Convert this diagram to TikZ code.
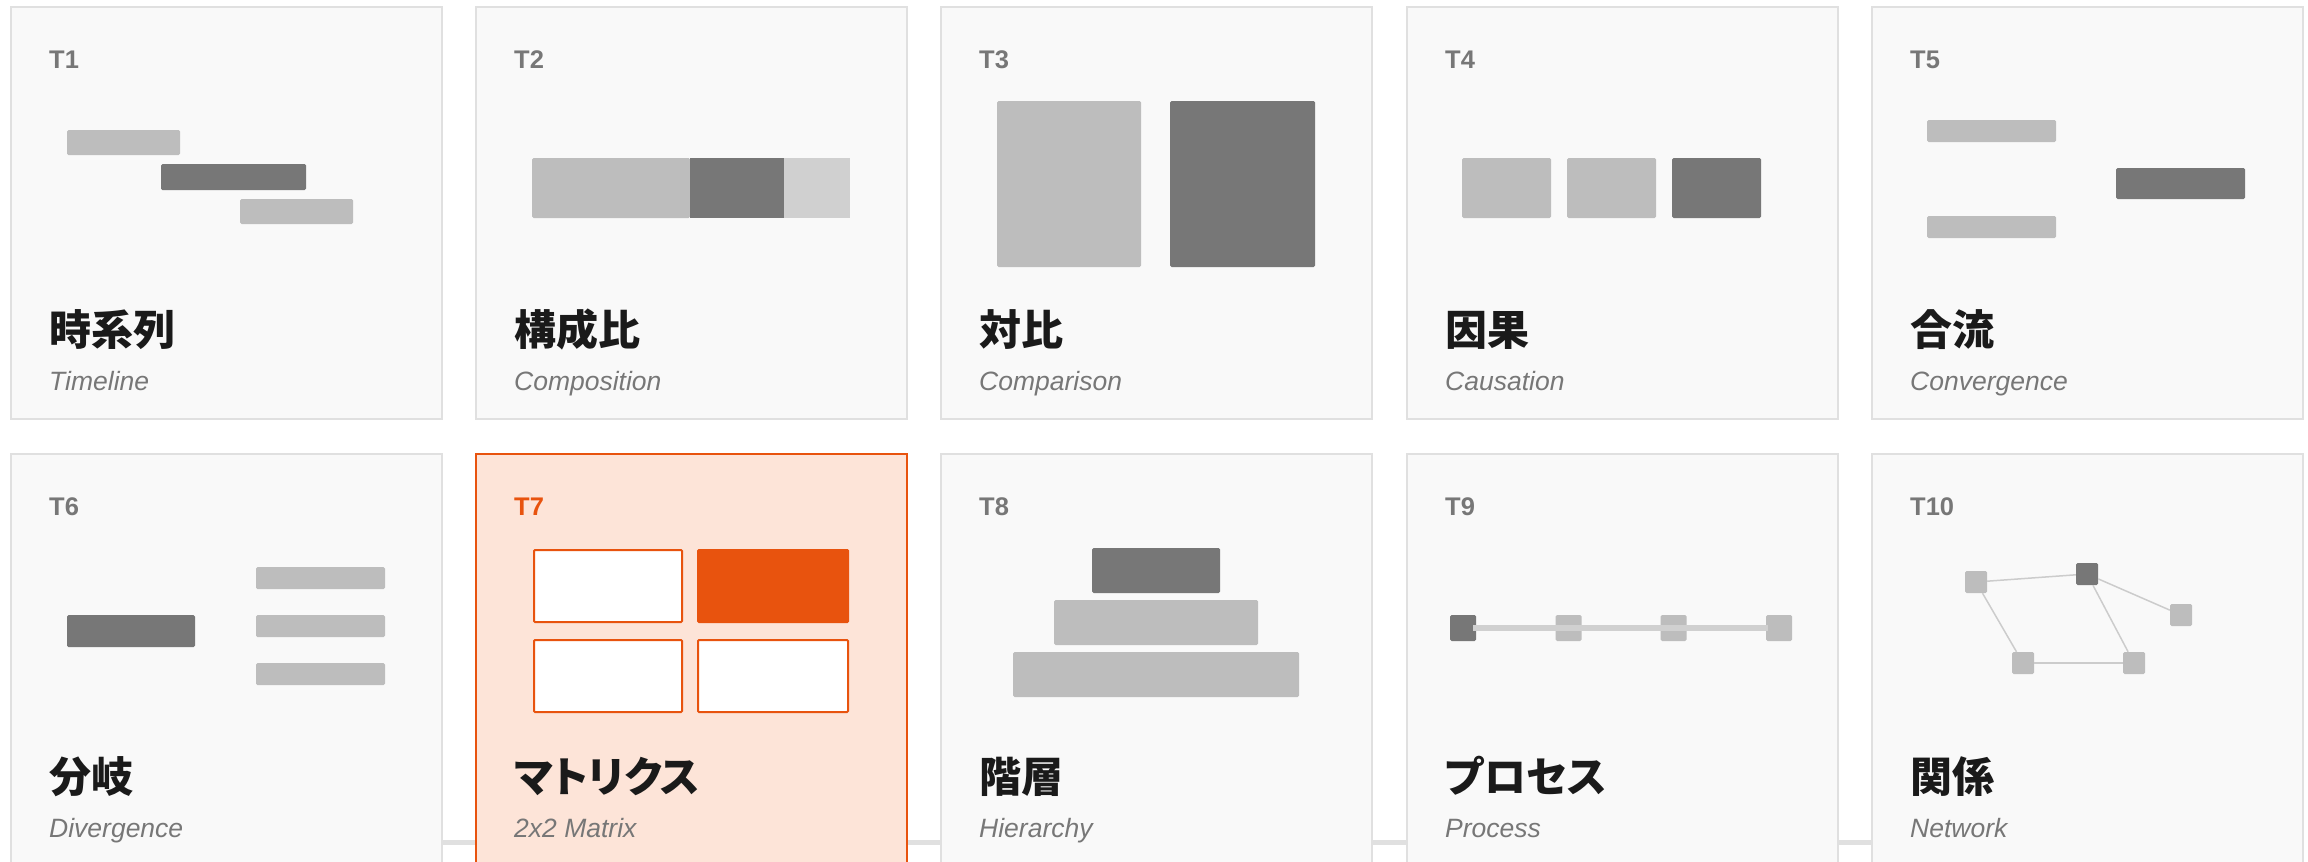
\documentclass[tikz,border=0pt]{standalone}
\usepackage{fontspec}
\setmainfont{Liberation Sans}
\newfontfamily\cjk{Noto Sans CJK JP}[RawFeature=+palt]
\definecolor{cardbg}{HTML}{F9F9F9}
\definecolor{cardline}{HTML}{E0E0E0}
\definecolor{barlight}{HTML}{BDBDBD}
\definecolor{bardark}{HTML}{777777}
\definecolor{barpale}{HTML}{D0D0D0}
\definecolor{netline}{HTML}{CCCCCC}
\definecolor{labgray}{HTML}{777777}
\definecolor{subgray}{HTML}{777777}
\definecolor{ink}{HTML}{1A1A1A}
\definecolor{peach}{HTML}{FDE4D8}
\definecolor{brand}{HTML}{E8530E}
\tikzset{
  card/.style={draw=cardline, line width=2pt, fill=cardbg, inner sep=0pt,
    minimum width=431pt, minimum height=412pt, anchor=north west},
  hotcard/.style={card, draw=brand, fill=peach},
  lab/.style={anchor=base west, inner sep=0pt, font=\bfseries\fontsize{25.5}{30}\selectfont, text=labgray},
  ttl/.style={anchor=base west, inner sep=0pt, font=\cjk\bfseries\fontsize{42}{50}\selectfont, text=ink},
  sub/.style={anchor=base west, inner sep=0pt, font=\itshape\fontsize{26.5}{31}\selectfont, text=subgray},
  lightbar/.style={fill=barlight, rounded corners=1.5pt},
  darkbar/.style={fill=bardark, rounded corners=1.5pt},
  palebar/.style={fill=barpale},
  mbox/.style={draw=brand, line width=2pt, fill=white, rounded corners=1pt},
  mboxon/.style={fill=brand, rounded corners=1.5pt},
  psq/.style={fill=barlight, minimum width=26pt, minimum height=26pt, inner sep=0pt, rounded corners=1.5pt},
  psqdark/.style={psq, fill=bardark},
  pline/.style={draw=barpale, line width=6pt},
  nsq/.style={fill=barlight, minimum width=22pt, minimum height=22pt, inner sep=0pt, rounded corners=1.5pt},
  nsqdark/.style={nsq, fill=bardark},
  nline/.style={draw=netline, line width=1.5pt},
  gapbar/.style={draw=cardline, line width=5pt}
}
\newcommand\mkcard[7]{%
  \node[#7] (#1) at (#2,#3) {};
  \node[lab] (#1-id) at (#2+39,#3+62) {#4};
  \node[ttl] (#1-title) at (#2+39,#3+339) {#5};
  \node[sub] (#1-sub) at (#2+39,#3+384) {#6};
}
\begin{document}
\begin{tikzpicture}[x=1pt, y=-1pt]
\useasboundingbox[fill=white] (0,0) rectangle (2308,862);
\clip (0,0) rectangle (2308,862);
% band behind the lower row
\coordinate (bandL) at (441,842);
\coordinate (bandR) at (1871,842);
\draw[gapbar] (bandL) -- (bandR);
% row 1
\mkcard{c1}{10}{6}{T1}{時系列}{Timeline}{card}
\mkcard{c2}{475}{6}{T2}{構成比}{Composition}{card}
\mkcard{c3}{940}{6}{T3}{対比}{Comparison}{card}
\mkcard{c4}{1406}{6}{T4}{因果}{Causation}{card}
\mkcard{c5}{1871}{6}{T5}{合流}{Convergence}{card}
% row 2
\mkcard{c6}{10}{453}{T6}{分岐}{Divergence}{card}
\mkcard{c7}{475}{453}{\textcolor{brand}{T7}}{マトリクス}{2x2 Matrix}{hotcard}
\mkcard{c8}{940}{453}{T8}{階層}{Hierarchy}{card}
\mkcard{c9}{1406}{453}{T9}{プロセス}{Process}{card}
\mkcard{c10}{1871}{453}{T10}{関係}{Network}{card}
% T1 timeline
\fill[lightbar] (67,130) rectangle (180,155);
\fill[darkbar] (161,164) rectangle (306,190);
\fill[lightbar] (240,199) rectangle (353,224);
% T2 composition
\fill[lightbar] (532,158) rectangle (690,218);
\fill[fill=bardark] (690,158) rectangle (784,218);
\fill[palebar] (784,158) rectangle (850,218);
% T3 comparison
\fill[lightbar] (997,101) rectangle (1141,267);
\fill[darkbar] (1170,101) rectangle (1315,267);
% T4 causation
\fill[lightbar] (1462,158) rectangle (1551,218);
\fill[lightbar] (1567,158) rectangle (1656,218);
\fill[darkbar] (1672,158) rectangle (1761,218);
% T5 convergence
\fill[lightbar] (1927,120) rectangle (2056,142);
\fill[darkbar] (2116,168) rectangle (2245,199);
\fill[lightbar] (1927,216) rectangle (2056,238);
% T6 divergence
\fill[darkbar] (67,615) rectangle (195,647);
\fill[lightbar] (256,567) rectangle (385,589);
\fill[lightbar] (256,615) rectangle (385,637);
\fill[lightbar] (256,663) rectangle (385,685);
% T7 matrix
\filldraw[mbox] (534,550) rectangle (682,622);
\fill[mboxon] (697,549) rectangle (849,623);
\filldraw[mbox] (534,640) rectangle (682,712);
\filldraw[mbox] (698,640) rectangle (848,712);
% T8 hierarchy
\fill[darkbar] (1092,548) rectangle (1220,593);
\fill[lightbar] (1054,600) rectangle (1258,645);
\fill[lightbar] (1013,652) rectangle (1299,697);
% T9 process
\node[psqdark] (p1) at (1463,628) {};
\node[psq] (p2) at (1568.5,628) {};
\node[psq] (p3) at (1673.5,628) {};
\node[psq] (p4) at (1779,628) {};
\draw[pline] ([xshift=-3pt]p1.east) -- ([xshift=2pt]p4.west);
% T10 network
\node[nsq] (na) at (1976,582) {};
\node[nsqdark] (nb) at (2087,574) {};
\node[nsq] (nc) at (2181,615) {};
\node[nsq] (nd) at (2023,663) {};
\node[nsq] (ne) at (2134,663) {};
\draw[nline] (na) -- (nb);
\draw[nline] (nb) -- (nc);
\draw[nline] (na) -- (nd);
\draw[nline] (nb) -- (ne);
\draw[nline] (nd) -- (ne);
\end{tikzpicture}
\end{document}
